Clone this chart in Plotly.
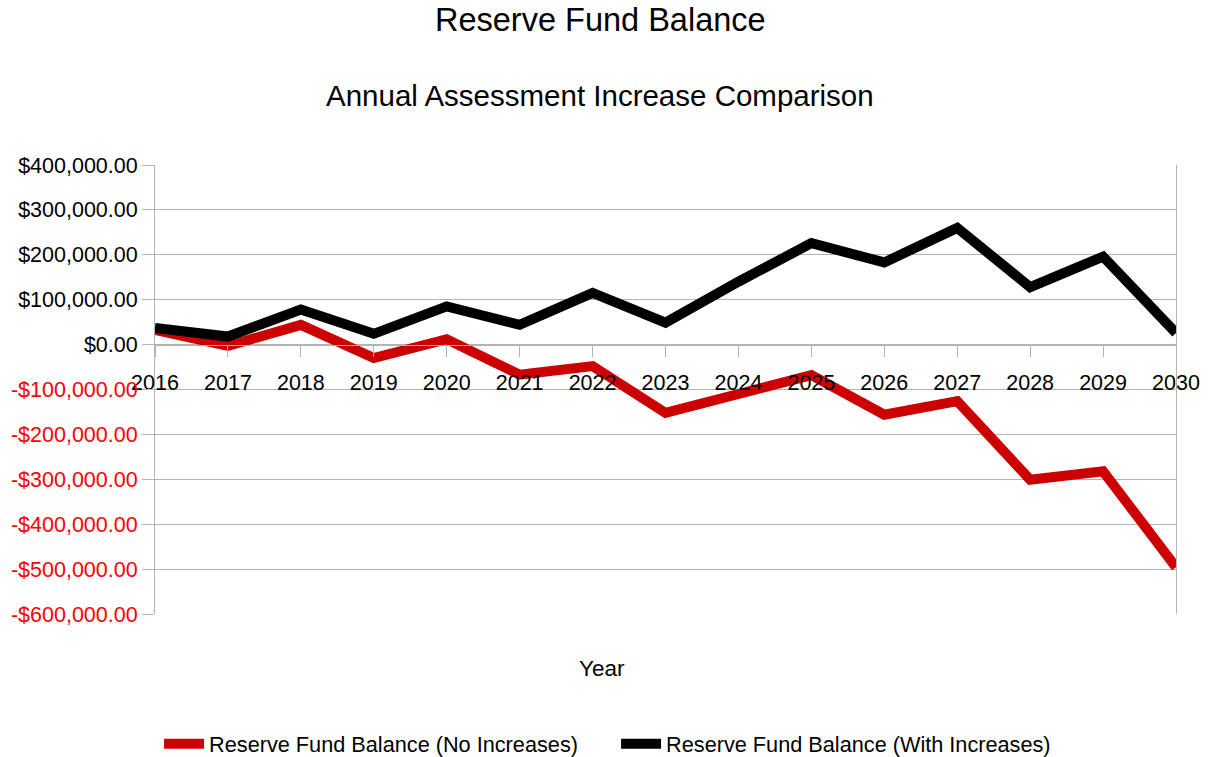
import plotly.graph_objects as go

years = list(range(2016, 2031))
no_increases = [33000, -3000, 44000, -30000, 12000, -67000, -48000, -152000,
                -110000, -68000, -156000, -126000, -301000, -282000, -496000]
with_increases = [37000, 18000, 78000, 24000, 85000, 44000, 115000, 49000,
                  140000, 226000, 183000, 260000, 128000, 196000, 26000]
y_ticks = [400000, 300000, 200000, 100000, 0, -100000, -200000, -300000,
           -400000, -500000, -600000]

def fmt(v):
    s = "${:,.2f}".format(abs(v))
    if v < 0:
        return "<span style='color:#ff0000'>-" + s + "</span>"
    return s

FONT = "Liberation Sans, Arial, sans-serif"

fig = go.Figure()
fig.add_trace(go.Scatter(x=years, y=no_increases, mode="lines",
                         name="Reserve Fund Balance (No Increases)",
                         line=dict(color="#cc0000", width=10)))
fig.add_trace(go.Scatter(x=years, y=with_increases, mode="lines",
                         name="Reserve Fund Balance (With Increases)",
                         line=dict(color="#000000", width=10)))

fig.update_layout(
    width=1208, height=757,
    margin=dict(l=155, r=32, t=165, b=143, autoexpand=False),
    paper_bgcolor="white", plot_bgcolor="white",
    font=dict(family=FONT, color="#000000", size=21),
    showlegend=True,
    legend=dict(orientation="h", x=0.004, xanchor="left", y=-0.29, yanchor="middle",
                font=dict(size=21.7), itemwidth=40, tracegroupgap=0,
                entrywidth=402),
    xaxis=dict(range=[2016, 2030], tickvals=years, ticktext=[str(y) for y in years],
               anchor="free", position=0.6, showgrid=False, zeroline=False,
               showline=True, linecolor="#b3b3b3", linewidth=1,
               ticks="outside", ticklen=11, tickcolor="#b3b3b3",
               ticklabelstandoff=8,
               tickfont=dict(size=21.5, color="#000000")),
    yaxis=dict(range=[-600000, 400000], tickvals=y_ticks,
               ticktext=[fmt(v) for v in y_ticks],
               showgrid=True, gridcolor="#b3b3b3", gridwidth=1,
               zeroline=False, showline=True, mirror=True,
               linecolor="#b3b3b3", linewidth=1,
               ticks="outside", ticklen=12, tickcolor="#b3b3b3",
               tickfont=dict(size=21.5, color="#000000")),
    annotations=[
        dict(text="Reserve Fund Balance", xref="paper", yref="paper",
             x=0.436, y=(614 - 20) / 449, xanchor="center", yanchor="middle",
             showarrow=False, font=dict(size=32.5, family=FONT)),
        dict(text="Annual Assessment Increase Comparison", xref="paper", yref="paper",
             x=0.436, y=(614 - 95) / 449, xanchor="center", yanchor="middle",
             showarrow=False, font=dict(size=29.5, family=FONT)),
        dict(text="Year", xref="paper", yref="paper",
             x=0.438, y=(614 - 668) / 449, xanchor="center", yanchor="middle",
             showarrow=False, font=dict(size=22.5, family=FONT)),
    ],
)

fig.write_html("out.html")
